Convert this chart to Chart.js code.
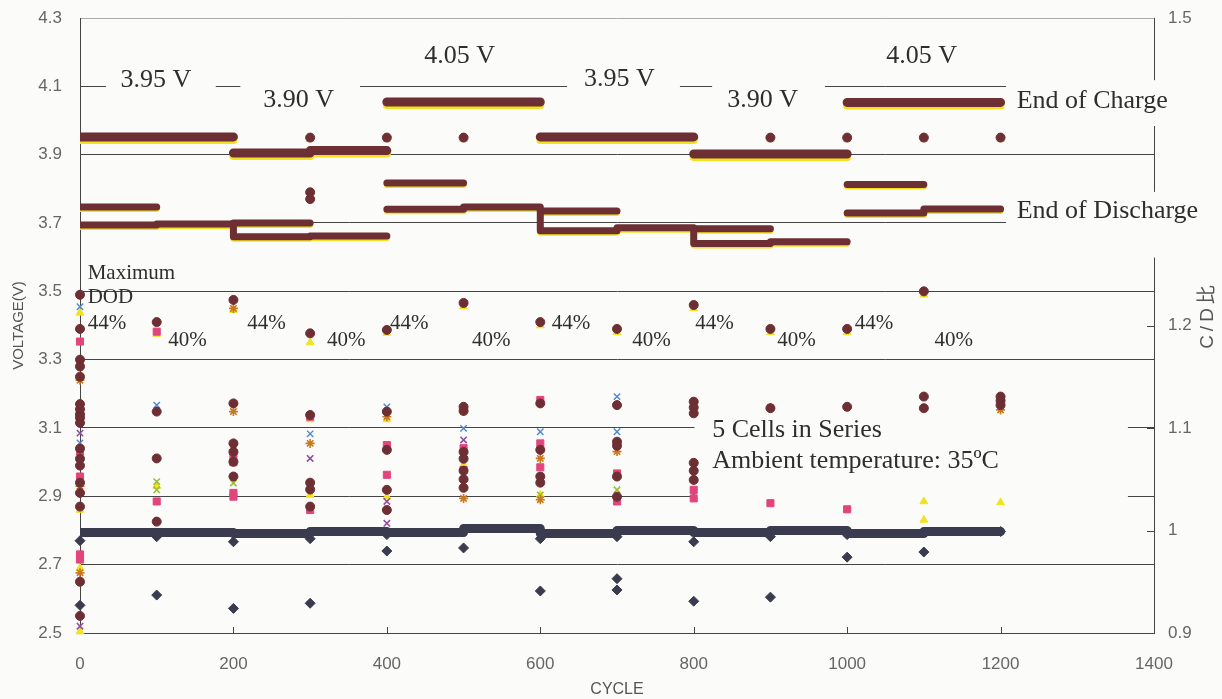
<!DOCTYPE html>
<html>
<head>
<meta charset="utf-8">
<title>Cycle test - 5 cells in series</title>
<script src="https://cdn.jsdelivr.net/npm/chart.js@4.4.1/dist/chart.umd.min.js"></script>
<style>
  html, body { margin: 0; padding: 0; background: #fbfbf9; }
  #wrap { width: 1222px; height: 699px; }
</style>
</head>
<body>
<div id="wrap"><canvas id="chart" width="1222" height="699"></canvas></div>
<script>
// axis ticks
const cycleTicks = [0, 200, 400, 600, 800, 1000, 1200, 1400];
const voltTicks = [2.5, 2.7, 2.9, 3.1, 3.3, 3.5, 3.7, 3.9, 4.1, 4.3];
const ratioTicks = [0.9, 1, 1.1, 1.2, 1.3, 1.4, 1.5];

// end of charge voltage (thick band)
const chargeFrom = [0, 200, 300, 400, 600, 800, 1000];
const chargeTo = [200, 300, 400, 600, 800, 1000, 1200];
const chargeVolt = [3.952, 3.905, 3.912, 4.054, 3.952, 3.902, 4.053];

// end of discharge voltage, one value per 100 cycles
const dischargeCycle = [0, 100, 200, 300, 400, 500, 600, 700, 800, 900, 1000, 1100, 1200];
const dischargeVolt = [3.694, 3.697, 3.66, 3.662, 3.74, 3.747, 3.677, 3.686, 3.64, 3.645, 3.729, 3.741, 3.741];
const dischargeBreaks = [400, 1000];

// second end of discharge band, only in the 44% DOD blocks
const dod44From = [0, 200, 400, 600, 800, 1000];
const dod44To = [100, 300, 500, 700, 900, 1100];
const dod44Volt = [3.747, 3.70, 3.817, 3.735, 3.683, 3.813];

// C/D ratio band (right axis), one value per 100 cycles
const ratioCycle = [0, 100, 200, 300, 400, 500, 600, 700, 800, 900, 1000, 1100, 1200];
const ratioBand = [0.998, 0.998, 0.997, 0.999, 0.998, 1.002, 0.997, 1.0, 0.998, 1.0, 0.997, 0.999, 0.999];

// check-up readings every 100 cycles
const checkCycles = [0, 100, 200, 300, 400, 500, 600, 700, 800, 900, 1000, 1100, 1200];
const maroonV = [
  [3.49, 3.39, 3.30, 3.28, 3.25, 3.17, 3.155, 3.14, 3.13, 3.115, 3.04, 3.01, 2.99, 2.94, 2.91, 2.87, 2.65, 2.55],
  [3.41, 3.148, 3.011, 2.826],
  [3.475, 3.172, 3.055, 3.03, 3.001, 2.958],
  [3.95, 3.79, 3.77, 3.377, 3.138, 2.94, 2.92, 2.87],
  [3.95, 3.387, 3.148, 3.036, 2.919, 2.86],
  [3.95, 3.466, 3.162, 3.15, 3.03, 3.01, 2.975, 2.95, 2.925],
  [3.41, 3.172, 3.036, 2.958, 2.94],
  [3.39, 3.167, 3.06, 3.048, 2.958, 2.899],
  [3.46, 3.177, 3.16, 3.143, 2.998, 2.975, 2.948],
  [3.95, 3.39, 3.158],
  [3.95, 3.39, 3.162],
  [3.95, 3.50, 3.192, 3.158],
  [3.95, 3.192, 3.18, 3.167]
];
const pinkV = [
  [3.353, 3.031, 2.958, 2.73, 2.715],
  [3.382, 2.885],
  [3.016, 3.0, 2.91, 2.899],
  [3.133, 2.86],
  [3.05, 2.963],
  [3.041, 2.977],
  [3.182, 3.055, 2.985],
  [2.967, 2.885],
  [2.919, 2.894],
  [2.88],
  [2.862],
  [],
  []
];
const yellowV = [
  [3.437, 3.25, 2.86, 2.69, 2.504],
  [3.375, 2.93],
  [3.445],
  [3.945, 3.35, 3.125, 2.904],
  [3.945, 3.378, 3.125, 2.899],
  [3.945, 3.455, 2.992],
  [3.40, 2.904],
  [3.38],
  [3.45],
  [3.945, 3.38],
  [3.945, 3.38],
  [3.945, 3.49, 2.885, 2.831],
  [3.945, 2.882]
];
const blueV = [[3.455, 3.056], [3.167], [], [3.083], [3.162], [3.099], [3.089], [3.192, 3.089], [], [], [], [], []];
const orangeV = [[3.24, 2.93, 2.676], [], [3.45, 3.148, 3.036], [3.055], [3.133], [3.148, 2.894], [3.011, 2.89], [3.031], [], [3.16], [], [], [3.153]];
const purpleV = [[3.085, 2.52], [], [], [3.011], [2.885, 2.821], [3.065], [], [], [2.904], [], [], [], []];
const greenV = [[], [2.943, 2.919], [2.939], [], [], [], [2.904], [2.919], [], [], [], [], []];
const ratioPts = [
  [0.99, 0.927], [0.994, 0.937], [0.989, 0.924], [0.992, 0.929], [0.996, 0.98], [0.983],
  [0.992, 0.941], [0.994, 0.953, 0.942], [0.989, 0.931], [0.994, 0.935], [0.996, 0.974], [0.979], [0.999]
];

const BG = '#fbfbf9';
const MAROON = '#6d2f33';
const YELLOW = '#f2e21e';
const NAVY = '#3a3b4f';

// text labels on the plot, placed in data units
const notes = [
  { text: '3.95 V', cycle: 99, volt: 4.119, align: 'center', size: 26 },
  { text: '3.90 V', cycle: 285, volt: 4.060, align: 'center', size: 26 },
  { text: '4.05 V', cycle: 495, volt: 4.189, align: 'center', size: 26 },
  { text: '3.95 V', cycle: 703, volt: 4.121, align: 'center', size: 26 },
  { text: '3.90 V', cycle: 890, volt: 4.060, align: 'center', size: 26 },
  { text: '4.05 V', cycle: 1097, volt: 4.189, align: 'center', size: 26 },
  { text: 'End of Charge', cycle: 1221, volt: 4.057, align: 'left', size: 26 },
  { text: 'End of Discharge', cycle: 1221, volt: 3.735, align: 'left', size: 26 },
  { text: 'Maximum', cycle: 10, volt: 3.551, align: 'left', size: 21 },
  { text: 'DOD', cycle: 10, volt: 3.483, align: 'left', size: 21 },
  { text: '5 Cells in Series', cycle: 824, volt: 3.094, align: 'left', size: 26 },
  { text: 'Ambient temperature: 35ºC', cycle: 824, volt: 3.003, align: 'left', size: 26 }
];
const dod44Label = [10, 218, 404, 615, 802, 1010];
const dod40Label = [115, 322, 511, 720, 909, 1114];

// white boxes behind the text labels (hide grid lines there)
const masks = [
  { from: 34, to: 177, top: 4.148, bottom: 4.075 },
  { from: 209, to: 365, top: 4.124, bottom: 4.007 },
  { from: 635, to: 782, top: 4.148, bottom: 4.075 },
  { from: 824, to: 971, top: 4.124, bottom: 4.007 },
  { from: 1207, to: 1450, top: 4.118, bottom: 3.984 },
  { from: 1207, to: 1476, top: 3.791, bottom: 3.599 },
  { from: 801, to: 1366, top: 3.153, bottom: 2.889 }
];

function segments(from, to, vals) {
  const pts = [];
  from.forEach((f, i) => {
    pts.push({ x: f, y: vals[i] }, { x: to[i], y: vals[i] }, { x: to[i], y: null });
  });
  return pts;
}
function series(cycles, vals, breaks) {
  const pts = [];
  cycles.forEach((c, i) => {
    if (breaks && breaks.includes(c) && i > 0) {
      pts.push({ x: c, y: vals[i - 1] }, { x: c, y: null });
    }
    pts.push({ x: c, y: vals[i] });
  });
  return pts;
}
function column(rows) {
  return checkCycles.flatMap((c, i) => rows[i].map(v => ({ x: c, y: v })));
}

function band(data, color, width, order, extra) {
  return Object.assign({
    type: 'line', data, borderColor: color, borderWidth: width, pointRadius: 0,
    borderCapStyle: 'round', borderJoinStyle: 'round', clip: 0, order, yAxisID: 'y'
  }, extra || {});
}
function marks(data, style, color, radius, order, extra) {
  return Object.assign({
    type: 'scatter', data, pointStyle: style, pointRadius: radius,
    backgroundColor: color, borderColor: color, borderWidth: 1,
    clip: false, order, yAxisID: 'y'
  }, extra || {});
}

const chargeData = segments(chargeFrom, chargeTo, chargeVolt);
const dischargeData = series(dischargeCycle, dischargeVolt, dischargeBreaks);
const dod44Data = segments(dod44From, dod44To, dod44Volt);

const shiftPlugin = {
  id: 'shift',
  beforeDatasetDraw(chart, args) {
    const ds = chart.data.datasets[args.index];
    chart.ctx.save();
    if (ds.shiftY) chart.ctx.translate(0, ds.shiftY);
  },
  afterDatasetDraw(chart) {
    chart.ctx.restore();
  }
};

const overlay = {
  id: 'overlay',
  beforeDraw(chart) {
    const ctx = chart.ctx;
    ctx.save();
    ctx.fillStyle = BG;
    ctx.fillRect(0, 0, chart.width, chart.height);
    ctx.restore();
  },
  beforeDatasetsDraw(chart) {
    const { ctx, chartArea, scales: { x, y, y2 } } = chart;
    ctx.save();
    ctx.strokeStyle = '#444';
    ctx.lineWidth = 1;
    ctx.beginPath();
    cycleTicks.slice(1, -1).forEach(c => {
      const px = Math.round(x.getPixelForValue(c)) + 0.5;
      ctx.moveTo(px, chartArea.bottom);
      ctx.lineTo(px, chartArea.bottom - 6);
    });
    ratioTicks.slice(1, -1).forEach(r => {
      const py = Math.round(y2.getPixelForValue(r)) + 0.5;
      ctx.moveTo(chartArea.right, py);
      ctx.lineTo(chartArea.right - 7, py);
    });
    ctx.stroke();
    ctx.fillStyle = BG;
    masks.forEach(m => {
      const x0 = x.getPixelForValue(m.from), x1 = x.getPixelForValue(m.to);
      const y0 = y.getPixelForValue(m.top), y1 = y.getPixelForValue(m.bottom);
      ctx.fillRect(x0, y0, x1 - x0, y1 - y0);
    });
    ctx.restore();
  },
  afterDraw(chart) {
    const { ctx, scales: { x, y } } = chart;
    ctx.save();
    ctx.fillStyle = '#2e2e2e';
    ctx.textBaseline = 'middle';
    const put = (text, cycle, volt, align, size) => {
      ctx.font = size + 'px "Liberation Serif", "Times New Roman", serif';
      ctx.textAlign = align;
      ctx.fillText(text, x.getPixelForValue(cycle), y.getPixelForValue(volt));
    };
    notes.forEach(n => put(n.text, n.cycle, n.volt, n.align, n.size));
    dod44Label.forEach(c => put('44%', c, 3.407, 'left', 21));
    dod40Label.forEach(c => put('40%', c, 3.355, 'left', 21));

    // right axis title, reading bottom to top
    ctx.translate(1208, 315);
    ctx.rotate(-Math.PI / 2);
    ctx.fillStyle = '#555';
    ctx.textAlign = 'center';
    ctx.font = '19px "Liberation Sans", "Noto Sans CJK JP", sans-serif';
    ctx.letterSpacing = '4px';
    ctx.fillText('C/D比', 0, 0);
    ctx.restore();
  }
};

const tickFont = { family: '"Liberation Sans", Arial, sans-serif', size: 17 };

new Chart(document.getElementById('chart'), {
  type: 'scatter',
  data: {
    datasets: [
      marks(column(maroonV), 'circle', MAROON, 4.5, 1),
      band(chargeData, MAROON, 9, 2),
      band(dischargeData, MAROON, 7, 2, { stepped: true }),
      band(dod44Data, MAROON, 7, 2),
      marks(column(pinkV), 'rect', '#e2457c', 5, 3),
      marks(column(orangeV), 'star', '#c9781c', 4.5, 3, { borderWidth: 1.6 }),
      marks(column(blueV), 'crossRot', '#4f86cf', 4.5, 3, { borderWidth: 1.4 }),
      marks(column(purpleV), 'crossRot', '#8e4f9e', 4.5, 3, { borderWidth: 1.6 }),
      marks(column(greenV), 'crossRot', '#9dbb3c', 4.5, 3, { borderWidth: 1.6 }),
      marks(column(yellowV), 'triangle', YELLOW, 4.5, 4),
      band(series(ratioCycle, ratioBand), NAVY, 9, 5, { stepped: true, yAxisID: 'y2' }),
      marks(column(ratioPts), 'rectRot', NAVY, 5, 5, { yAxisID: 'y2' }),
      band(chargeData, YELLOW, 8, 9, { shiftY: 3 }),
      band(dischargeData, YELLOW, 6, 9, { stepped: true, shiftY: 2 }),
      band(dod44Data, YELLOW, 6, 9, { shiftY: 2 })
    ]
  },
  options: {
    responsive: false,
    animation: false,
    events: [],
    layout: { padding: { top: 18, left: 0, right: 0, bottom: 0 } },
    plugins: { legend: { display: false }, tooltip: { enabled: false } },
    scales: {
      x: {
        type: 'linear', position: 'bottom', min: 0, max: 1400,
        afterBuildTicks: s => { s.ticks = cycleTicks.map(v => ({ value: v })); },
        afterFit: s => { s.height = 66; },
        grid: { drawOnChartArea: false, drawTicks: false },
        border: { color: '#444', width: 1 },
        ticks: { padding: 21, color: '#666', font: tickFont, maxRotation: 0, autoSkip: false, callback: v => String(v) },
        title: { display: true, text: 'CYCLE', color: '#555', font: { family: tickFont.family, size: 16 }, padding: { top: 0, bottom: 0 } }
      },
      y: {
        type: 'linear', position: 'left', min: 2.5, max: 4.3,
        afterBuildTicks: s => { s.ticks = voltTicks.map(v => ({ value: v })); },
        afterFit: s => { s.width = 80; },
        grid: {
          color: c => (c.tick && c.tick.value === 4.3 ? '#aaa' : '#444'), lineWidth: 1,
          drawTicks: true, tickLength: 16, tickColor: 'rgba(0,0,0,0)'
        },
        border: { color: '#444', width: 1 },
        ticks: { padding: 2, color: '#666', font: tickFont, autoSkip: false, callback: v => String(v) },
        title: { display: true, text: 'VOLTAGE(V)', color: '#555', font: { family: tickFont.family, size: 15 }, padding: { top: 10, bottom: 0 } }
      },
      y2: {
        type: 'linear', position: 'right', min: 0.9, max: 1.5,
        afterBuildTicks: s => { s.ticks = ratioTicks.map(v => ({ value: v })); },
        afterFit: s => { s.width = 68; },
        grid: { drawOnChartArea: false, drawTicks: true, tickLength: 12, tickColor: 'rgba(0,0,0,0)' },
        border: { color: '#444', width: 1 },
        ticks: { padding: 2, color: '#666', font: tickFont, autoSkip: false, callback: v => String(v) }
      }
    }
  },
  plugins: [shiftPlugin, overlay]
});
</script>
</body>
</html>
